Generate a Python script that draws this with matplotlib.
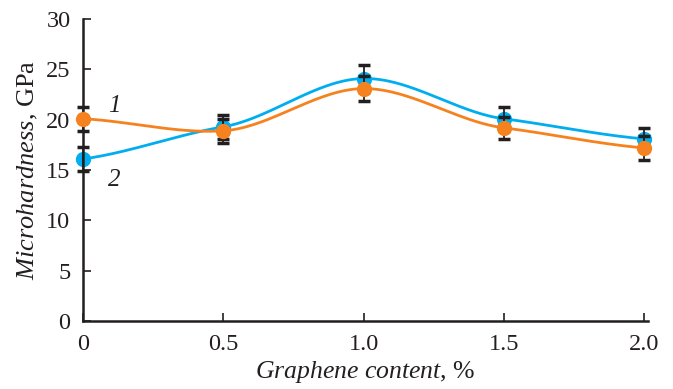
import numpy as np
import matplotlib
matplotlib.use('Agg')
import matplotlib.pyplot as plt

plt.rcParams['font.family'] = ['Liberation Serif', 'DejaVu Serif']
plt.rcParams['mathtext.fontset'] = 'custom'
plt.rcParams['mathtext.rm'] = 'Liberation Serif'
plt.rcParams['mathtext.it'] = 'Liberation Serif:italic'

content = [0, 0.5, 1.0, 1.5, 2.0]
hard_1 = [20.1, 18.9, 23.1, 19.2, 17.2]  # curva 1 (arancione)
hard_2 = [16.1, 19.3, 24.1, 20.1, 18.1]  # curva 2 (blu)
err_1 = [1.2, 1.2, 1.2, 1.1, 1.2]
err_2 = [1.15, 1.2, 1.3, 1.2, 1.1]
x_ticks = [0, 0.5, 1.0, 1.5, 2.0]
x_ticklabels = ['0', '0.5', '1.0', '1.5', '2.0']

orange = '#F5821F'
blue = '#00AEEF'
dark = '#231F20'


def smooth(x, y, tension=0.6, n=60):
    # hermite con tangenti catmull-rom ridotte, solo per disegnare la curva
    x = np.asarray(x, float)
    y = np.asarray(y, float)
    k = len(x)
    m = np.zeros(k)
    m[0] = (y[1] - y[0]) / (x[1] - x[0])
    m[-1] = (y[-1] - y[-2]) / (x[-1] - x[-2])
    for i in range(1, k - 1):
        m[i] = (y[i + 1] - y[i - 1]) / (x[i + 1] - x[i - 1])
    m *= tension
    xs, ys = [], []
    for i in range(k - 1):
        h = x[i + 1] - x[i]
        t = np.linspace(0, 1, n)
        h00 = 2 * t ** 3 - 3 * t ** 2 + 1
        h10 = t ** 3 - 2 * t ** 2 + t
        h01 = -2 * t ** 3 + 3 * t ** 2
        h11 = t ** 3 - t ** 2
        xs.append(x[i] + t * h)
        ys.append(h00 * y[i] + h10 * h * m[i] + h01 * y[i + 1] + h11 * h * m[i + 1])
    return np.concatenate(xs), np.concatenate(ys)


fig = plt.figure(figsize=(6.73, 3.89), dpi=100)
ax = fig.add_axes([0.1233, 0.1748, 0.8395, 0.776])

xs, ys = smooth(content, hard_2)
ax.plot(xs, ys, color=blue, lw=2, zorder=2, clip_on=False)
ax.plot(content, hard_2, 'o', color=blue, ms=10, zorder=2, clip_on=False)

ax.errorbar(content, hard_2, yerr=err_2, fmt='none', ecolor=dark, elinewidth=1.3,
            capsize=4, capthick=2.5, zorder=3, clip_on=False)
ax.errorbar(content, hard_1, yerr=err_1, fmt='none', ecolor=dark, elinewidth=1.3,
            capsize=4, capthick=2.5, zorder=3, clip_on=False)

xs, ys = smooth(content, hard_1)
ax.plot(xs, ys, color=orange, lw=2, zorder=4, clip_on=False)
ax.plot(content, hard_1, 'o', color=orange, ms=10, zorder=4, clip_on=False)

ax.text(0.09, 20.75, '1', fontsize=18, style='italic', color=dark)
ax.text(0.09, 13.4, '2', fontsize=18, style='italic', color=dark)

ax.set_xlim(0, 2.014)
ax.set_ylim(0, 30)
ax.set_xticks(x_ticks)
ax.set_xticklabels(x_ticklabels)
ax.set_yticks(range(0, 31, 5))
ax.tick_params(direction='in', length=6, width=1.2, labelsize=17.5, colors=dark)
ax.tick_params(axis='x', pad=9)
ax.tick_params(axis='y', pad=9)
for s in ['top', 'right']:
    ax.spines[s].set_visible(False)
for s in ['left', 'bottom']:
    ax.spines[s].set_linewidth(1.8)
    ax.spines[s].set_color(dark)

ax.set_xlabel(r'$\it{Graphene\ content}$, %', fontsize=18.5, color=dark, labelpad=3)
ax.set_ylabel(r'$\it{Microhardness}$, GPa', fontsize=19, color=dark, labelpad=4)

fig.savefig('out.png', dpi=100)
